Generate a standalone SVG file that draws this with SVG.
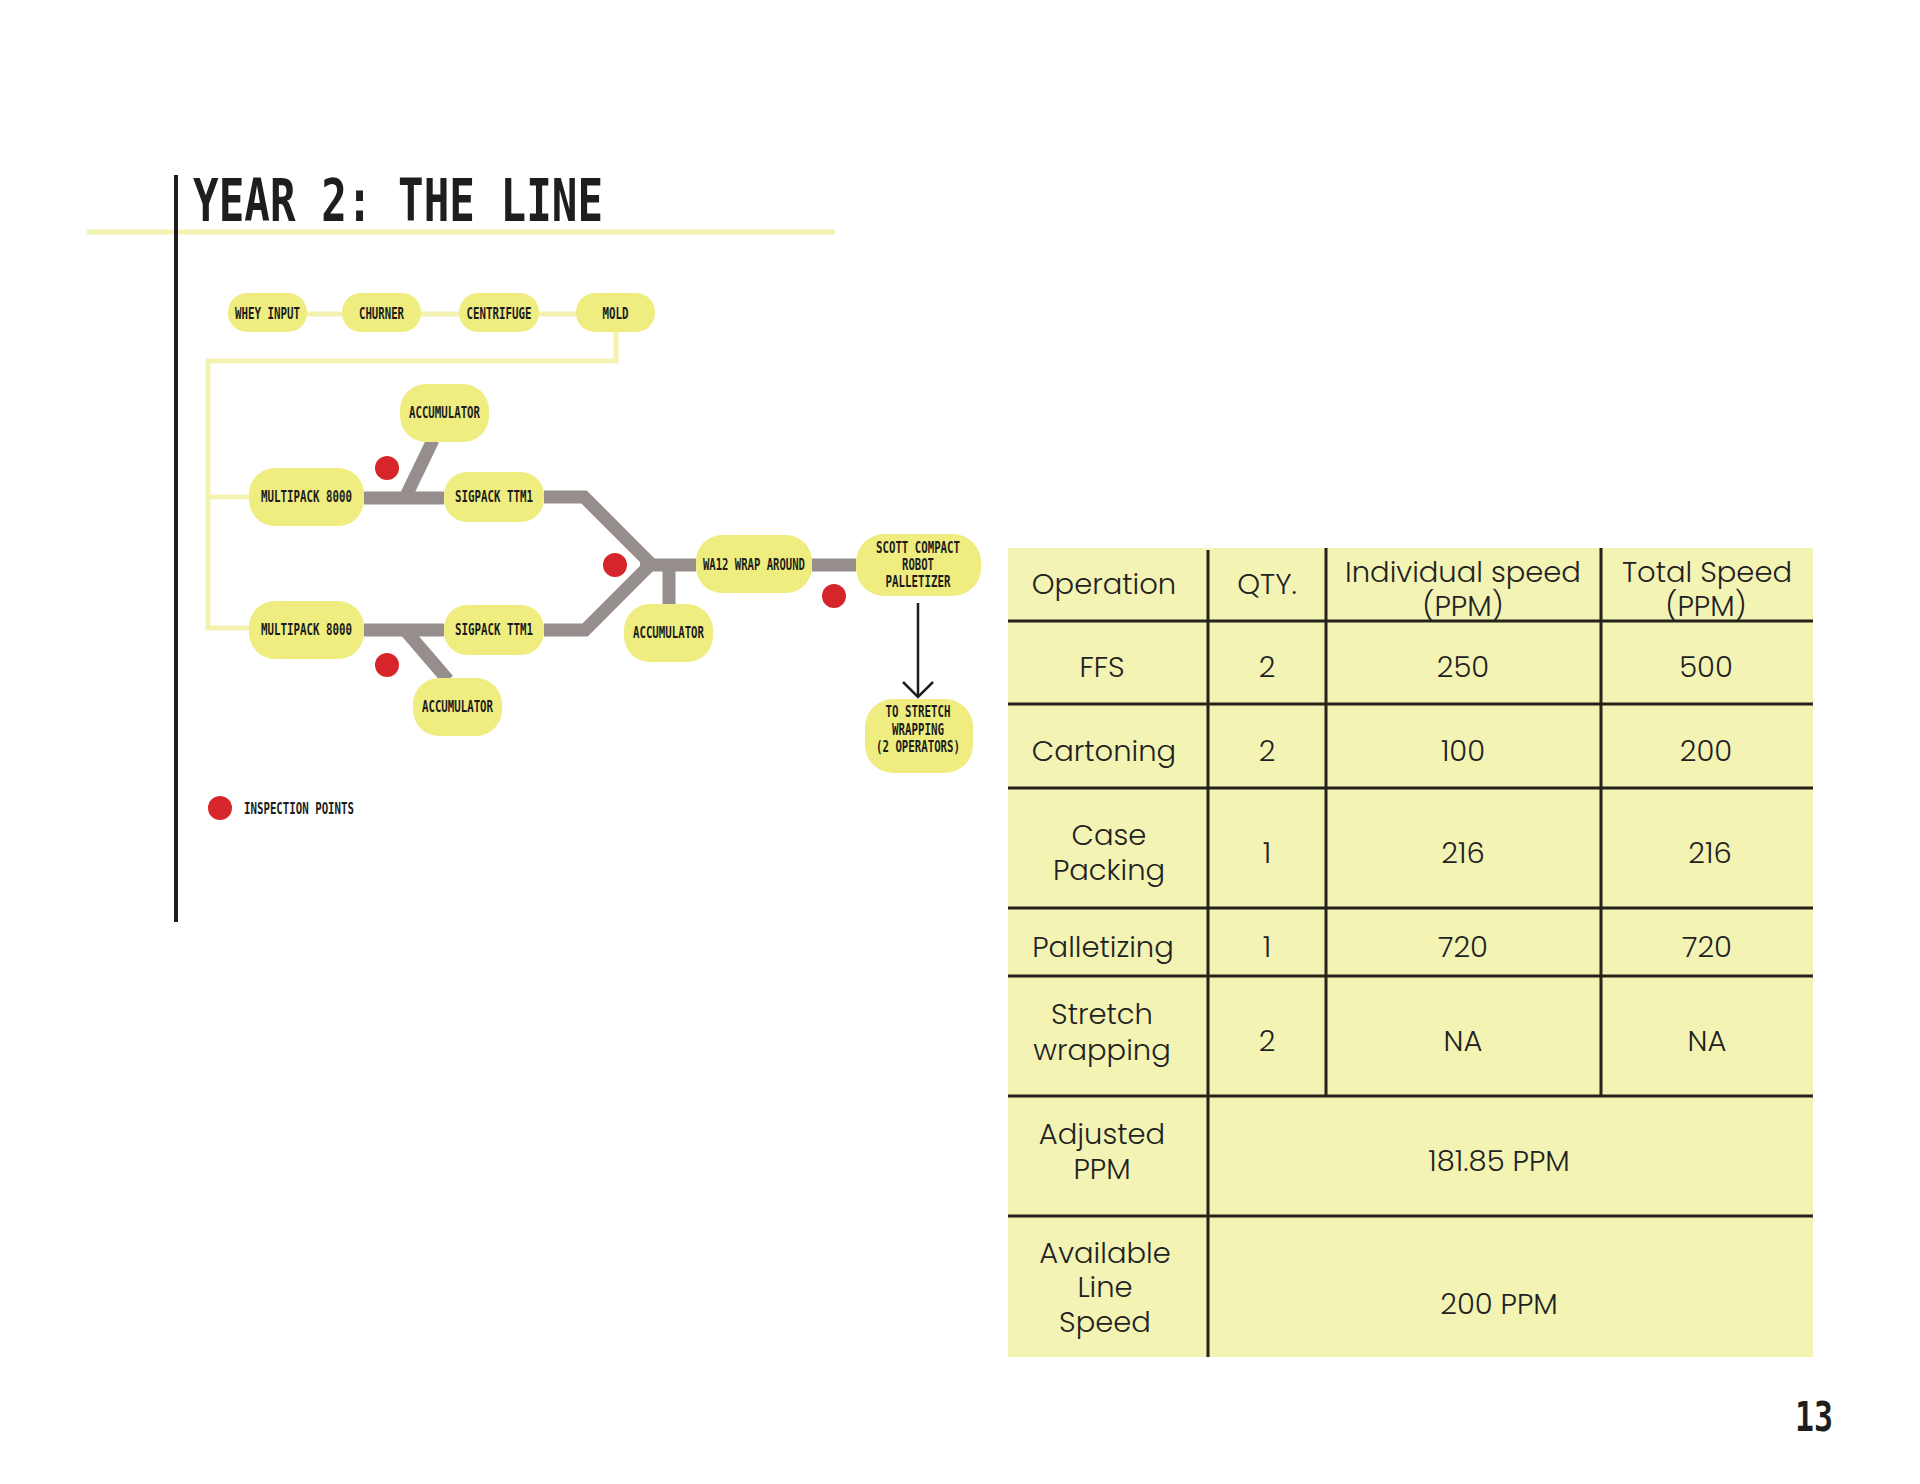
<svg xmlns="http://www.w3.org/2000/svg" width="1920" height="1484" viewBox="0 0 1920 1484">
<style>
.node{fill:#efed7f}
.lbl{font-family:"DejaVu Sans Mono","Liberation Mono",monospace;font-weight:bold;font-size:15px;fill:#1c1c1c;text-anchor:middle}
.ylw{stroke:#f3f2b1;stroke-width:5;fill:none}
.gry{stroke:#958e8c;stroke-width:13;fill:none;stroke-linecap:butt;stroke-linejoin:miter}
.dot{fill:#d7262b}
.tl{stroke:#23231c;stroke-width:3;fill:none}
.tt{font-family:"Poppins","Lato","Noto Sans",sans-serif;font-weight:300;font-size:29px;fill:#222;text-anchor:middle}
</style>
<rect width="1920" height="1484" fill="#ffffff"/>
<!-- title -->
<line x1="87" y1="232" x2="835" y2="232" stroke="#f3f2b1" stroke-width="5"/>
<line x1="176" y1="175" x2="176" y2="922" stroke="#1e1e1e" stroke-width="4"/>
<text x="193" y="221" font-family="DejaVu Sans Mono, monospace" font-weight="bold" font-size="58" fill="#1e1e1e" textLength="410" lengthAdjust="spacingAndGlyphs">YEAR 2: THE LINE</text>

<g id="connectors">
  <path class="ylw" d="M307,314 H342 M421,314 H459 M539,314 H576"/>
  <path class="ylw" d="M616,332 V361 H208 V628 H249 M208,497 H249"/>
  <path class="gry" d="M364,498 H444 M405,498 L433,440"/>
  <path class="gry" d="M364,630 H444 M405,630 L448,680"/>
  <path class="gry" d="M544,497 H584 L652,565"/>
  <path class="gry" d="M544,630 H585 L650,565"/>
  <path class="gry" d="M640,565 H696 M669,565 V604"/>
  <path class="gry" d="M812,565 H856"/>
  <path d="M918,603 V696" stroke="#1e1e1e" stroke-width="2.5" fill="none"/>
  <path d="M903,682 L918,697 L933,682" stroke="#1e1e1e" stroke-width="2.5" fill="none"/>
</g>

<g id="n-whey"><rect class="node" x="228" y="293" width="79" height="39" rx="19"/><text class="lbl" x="267.5" y="319" textLength="65" lengthAdjust="spacingAndGlyphs">WHEY INPUT</text></g>
<g id="n-churner"><rect class="node" x="342" y="293" width="79" height="39" rx="19"/><text class="lbl" x="381.5" y="319" textLength="45" lengthAdjust="spacingAndGlyphs">CHURNER</text></g>
<g id="n-centrifuge"><rect class="node" x="459" y="293" width="80" height="39" rx="19"/><text class="lbl" x="499" y="319" textLength="65" lengthAdjust="spacingAndGlyphs">CENTRIFUGE</text></g>
<g id="n-mold"><rect class="node" x="576" y="293" width="79" height="39" rx="19"/><text class="lbl" x="615.5" y="319" textLength="26" lengthAdjust="spacingAndGlyphs">MOLD</text></g>

<g id="n-acc1"><rect class="node" x="400" y="384" width="89" height="58" rx="26"/><text class="lbl" x="444.5" y="418" textLength="71" lengthAdjust="spacingAndGlyphs">ACCUMULATOR</text></g>
<g id="n-mp1"><rect class="node" x="249" y="468" width="115" height="58" rx="26"/><text class="lbl" x="306.5" y="502" textLength="91" lengthAdjust="spacingAndGlyphs">MULTIPACK 8000</text></g>
<g id="n-sp1"><rect class="node" x="444" y="472" width="100" height="50" rx="23"/><text class="lbl" x="494" y="502" textLength="78" lengthAdjust="spacingAndGlyphs">SIGPACK TTM1</text></g>
<g id="n-mp2"><rect class="node" x="249" y="601" width="115" height="58" rx="26"/><text class="lbl" x="306.5" y="635" textLength="91" lengthAdjust="spacingAndGlyphs">MULTIPACK 8000</text></g>
<g id="n-sp2"><rect class="node" x="444" y="605" width="100" height="50" rx="23"/><text class="lbl" x="494" y="635" textLength="78" lengthAdjust="spacingAndGlyphs">SIGPACK TTM1</text></g>
<g id="n-acc2"><rect class="node" x="413" y="678" width="89" height="58" rx="26"/><text class="lbl" x="457.5" y="712" textLength="71" lengthAdjust="spacingAndGlyphs">ACCUMULATOR</text></g>
<g id="n-wa12"><rect class="node" x="696" y="535" width="116" height="58" rx="26"/><text class="lbl" x="754" y="570" textLength="102" lengthAdjust="spacingAndGlyphs">WA12 WRAP AROUND</text></g>
<g id="n-acc3"><rect class="node" x="624" y="604" width="89" height="58" rx="26"/><text class="lbl" x="668.5" y="638" textLength="71" lengthAdjust="spacingAndGlyphs">ACCUMULATOR</text></g>
<g id="n-scott"><rect class="node" x="856" y="534" width="125" height="62" rx="28"/>
<text class="lbl" x="918" y="553" textLength="84" lengthAdjust="spacingAndGlyphs">SCOTT COMPACT</text>
<text class="lbl" x="918" y="570" textLength="32" lengthAdjust="spacingAndGlyphs">ROBOT</text>
<text class="lbl" x="918" y="587" textLength="65" lengthAdjust="spacingAndGlyphs">PALLETIZER</text></g>
<g id="n-stretch"><rect class="node" x="865" y="699" width="108" height="74" rx="28"/>
<text class="lbl" x="918" y="717" textLength="65" lengthAdjust="spacingAndGlyphs">TO STRETCH</text>
<text class="lbl" x="918" y="735" textLength="52" lengthAdjust="spacingAndGlyphs">WRAPPING</text>
<text class="lbl" x="918" y="752" textLength="84" lengthAdjust="spacingAndGlyphs">(2 OPERATORS)</text></g>

<g id="inspection-points">
<circle class="dot" cx="387" cy="468" r="12"/>
<circle class="dot" cx="615" cy="565" r="12"/>
<circle class="dot" cx="387" cy="665" r="12"/>
<circle class="dot" cx="834" cy="596" r="12"/>
</g>
<g id="legend">
<circle class="dot" cx="220" cy="808" r="12"/>
<text class="lbl" x="244" y="814" style="text-anchor:start" textLength="110" lengthAdjust="spacingAndGlyphs">INSPECTION POINTS</text>
</g>

<g id="table">
<rect x="1008" y="548" width="805" height="809" fill="#f3f3b4"/>
<path class="tl" d="M1008,621 H1813 M1008,704 H1813 M1008,788 H1813 M1008,908 H1813 M1008,976 H1813 M1008,1096 H1813 M1008,1216 H1813"/>
<path class="tl" d="M1208,550 V1357 M1326,548 V1096 M1601,548 V1096"/>
<text class="tt" x="1104" y="594">Operation</text>
<text class="tt" x="1267" y="594">QTY.</text>
<text class="tt" x="1463" y="582">Individual speed</text>
<text class="tt" x="1463" y="616">(PPM)</text>
<text class="tt" x="1707" y="582">Total Speed</text>
<text class="tt" x="1706" y="616">(PPM)</text>

<text class="tt" x="1102" y="677">FFS</text>
<text class="tt" x="1267" y="677">2</text>
<text class="tt" x="1463" y="677">250</text>
<text class="tt" x="1706" y="677">500</text>

<text class="tt" x="1104" y="761">Cartoning</text>
<text class="tt" x="1267" y="761">2</text>
<text class="tt" x="1463" y="761">100</text>
<text class="tt" x="1706" y="761">200</text>

<text class="tt" x="1109" y="845">Case</text>
<text class="tt" x="1109" y="880">Packing</text>
<text class="tt" x="1267" y="863">1</text>
<text class="tt" x="1463" y="863">216</text>
<text class="tt" x="1710" y="863">216</text>

<text class="tt" x="1103" y="957">Palletizing</text>
<text class="tt" x="1267" y="957">1</text>
<text class="tt" x="1463" y="957">720</text>
<text class="tt" x="1707" y="957">720</text>

<text class="tt" x="1102" y="1024">Stretch</text>
<text class="tt" x="1102" y="1060">wrapping</text>
<text class="tt" x="1267" y="1051">2</text>
<text class="tt" x="1463" y="1051">NA</text>
<text class="tt" x="1707" y="1051">NA</text>

<text class="tt" x="1102" y="1144">Adjusted</text>
<text class="tt" x="1102" y="1179">PPM</text>
<text class="tt" x="1499" y="1171">181.85 PPM</text>

<text class="tt" x="1105" y="1263">Available</text>
<text class="tt" x="1105" y="1297">Line</text>
<text class="tt" x="1105" y="1332">Speed</text>
<text class="tt" x="1499" y="1314">200 PPM</text>
</g>

<text x="1795" y="1431" font-family="DejaVu Sans Mono, monospace" font-weight="bold" font-size="41" fill="#1e1e1e" textLength="38" lengthAdjust="spacingAndGlyphs">13</text>
</svg>
